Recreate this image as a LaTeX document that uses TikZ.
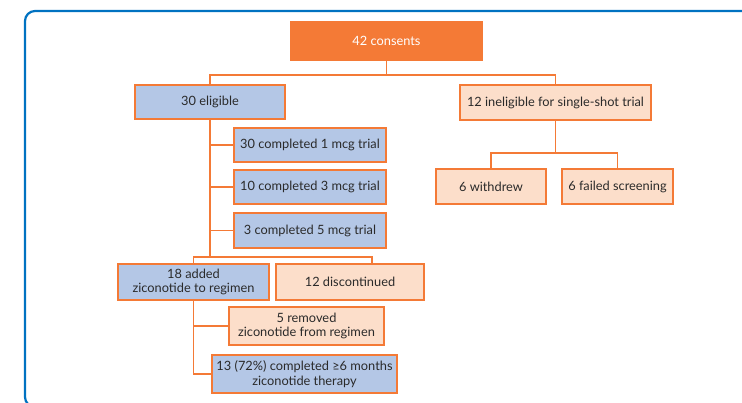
\documentclass[tikz,border=0pt]{standalone}
\usepackage{fontspec}
\setmainfont{Lato}
\usepackage{xcolor}
\usetikzlibrary{calc}
\definecolor{frameblue}{HTML}{0072C1}
\definecolor{boxorange}{HTML}{F47A36}
\definecolor{boxblue}{HTML}{B4C7E6}
\definecolor{boxpeach}{HTML}{FCDECA}
\definecolor{textgrey}{HTML}{2A2A2A}

\begin{document}
\begin{tikzpicture}[x=1pt,y=-1pt,
  font=\fontsize{12.8}{14.5}\selectfont,
  box/.style={draw=boxorange,line width=2pt,text=textgrey,align=center,inner sep=1pt},
  bluebox/.style={box,fill=boxblue},
  peachbox/.style={box,fill=boxpeach},
  topbox/.style={box,fill=boxorange,text=white},
  link/.style={draw=boxorange,line width=1.7pt}]
  \useasboundingbox (0,0) rectangle (742,402);
  \begin{scope}
    \clip (0,0) rectangle (742,402);
    \draw[frameblue,line width=2.2pt,rounded corners=10pt] (25,11) rectangle (780,407);
  \end{scope}

  \node[topbox,minimum width=191pt,minimum height=38pt] (cons) at (386.5,41) {42 consents};
  \node[bluebox,minimum width=150pt,minimum height=34pt] (elig) at (210,102) {30 eligible};
  \node[peachbox,minimum width=191pt,minimum height=35pt] (inel) at (555.5,102.5) {12 ineligible for single-shot trial};
  \node[peachbox,minimum width=110pt,minimum height=35pt] (wdr) at (491,186.5) {6 withdrew};
  \node[peachbox,minimum width=111pt,minimum height=35pt] (fail) at (617.5,186.5) {6 failed screening};
  \node[bluebox,minimum width=152pt,minimum height=34pt] (t1) at (310,145) {30 completed 1 mcg trial};
  \node[bluebox,minimum width=152pt,minimum height=34pt] (t3) at (310,187) {10 completed 3 mcg trial};
  \node[bluebox,minimum width=152pt,minimum height=35pt] (t5) at (310,230.5) {3 completed 5 mcg trial};
  \node[bluebox,minimum width=151pt,minimum height=36pt] (added) at (193.5,282) {18 added\\ziconotide to regimen};
  \node[peachbox,minimum width=148pt,minimum height=36pt] (disc) at (350,282) {12 discontinued};
  \node[peachbox,minimum width=155pt,minimum height=38pt] (rem) at (306.5,326) {5 removed\\ziconotide from regimen};
  \node[bluebox,minimum width=185pt,minimum height=38pt] (six) at (304.5,374) {13 (72\%) completed \symbol{"2265}6 months\\ziconotide therapy};

  \draw[link] (cons.south) -- ++(0,14) -| (elig.north);
  \draw[link] (cons.south) -- ++(0,14) -| (inel.north);
  \draw[link] (inel.south) -- ++(0,32) -| (wdr.north);
  \draw[link] (inel.south) -- ++(0,32) -| (fail.north);
  \draw[link] (elig.south) |- (t1.west);
  \draw[link] (elig.south) |- (t3.west);
  \draw[link] (elig.south) |- (t5.west);
  \draw[link] (elig.south) -- ++(0,137) -| (added.north);
  \draw[link] (elig.south) -- ++(0,137) -| ([xshift=22pt]disc.north);
  \draw[link] (added.south) |- (rem.west);
  \draw[link] (added.south) |- (six.west);
\end{tikzpicture}
\end{document}
